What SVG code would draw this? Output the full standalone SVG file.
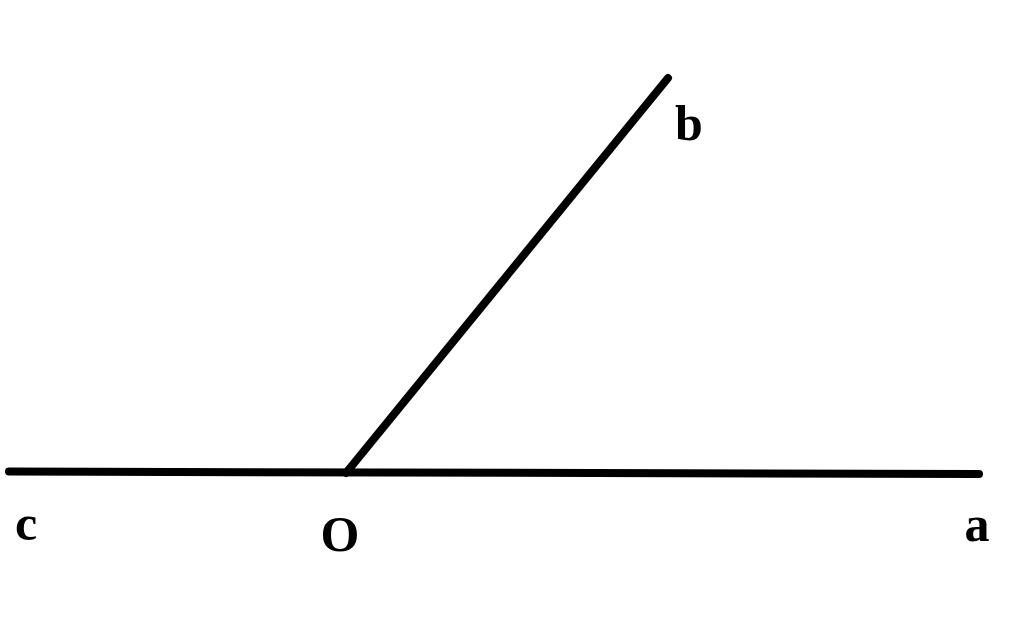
<svg xmlns="http://www.w3.org/2000/svg" width="1024" height="632" viewBox="0 0 1024 632">
<style>
.ln{stroke:#000;stroke-width:8;stroke-linecap:round;fill:none}
.lb{font-family:"Liberation Serif","Times New Roman",serif;font-weight:bold;font-size:50px;fill:#000;text-anchor:middle}
</style>
<rect width="1024" height="632" fill="#fff"/>
<g id="connectors">
<line class="ln" x1="9" y1="471.5" x2="979" y2="474"/>
<line class="ln" x1="346" y1="473" x2="668" y2="78"/>
</g>
<g id="node-b"><text class="lb" x="689" y="140">b</text></g>
<g id="node-c"><text class="lb" x="26" y="540">c</text></g>
<g id="node-O"><text class="lb" x="340" y="551">O</text></g>
<g id="node-a"><text class="lb" x="977" y="541">a</text></g>
</svg>
